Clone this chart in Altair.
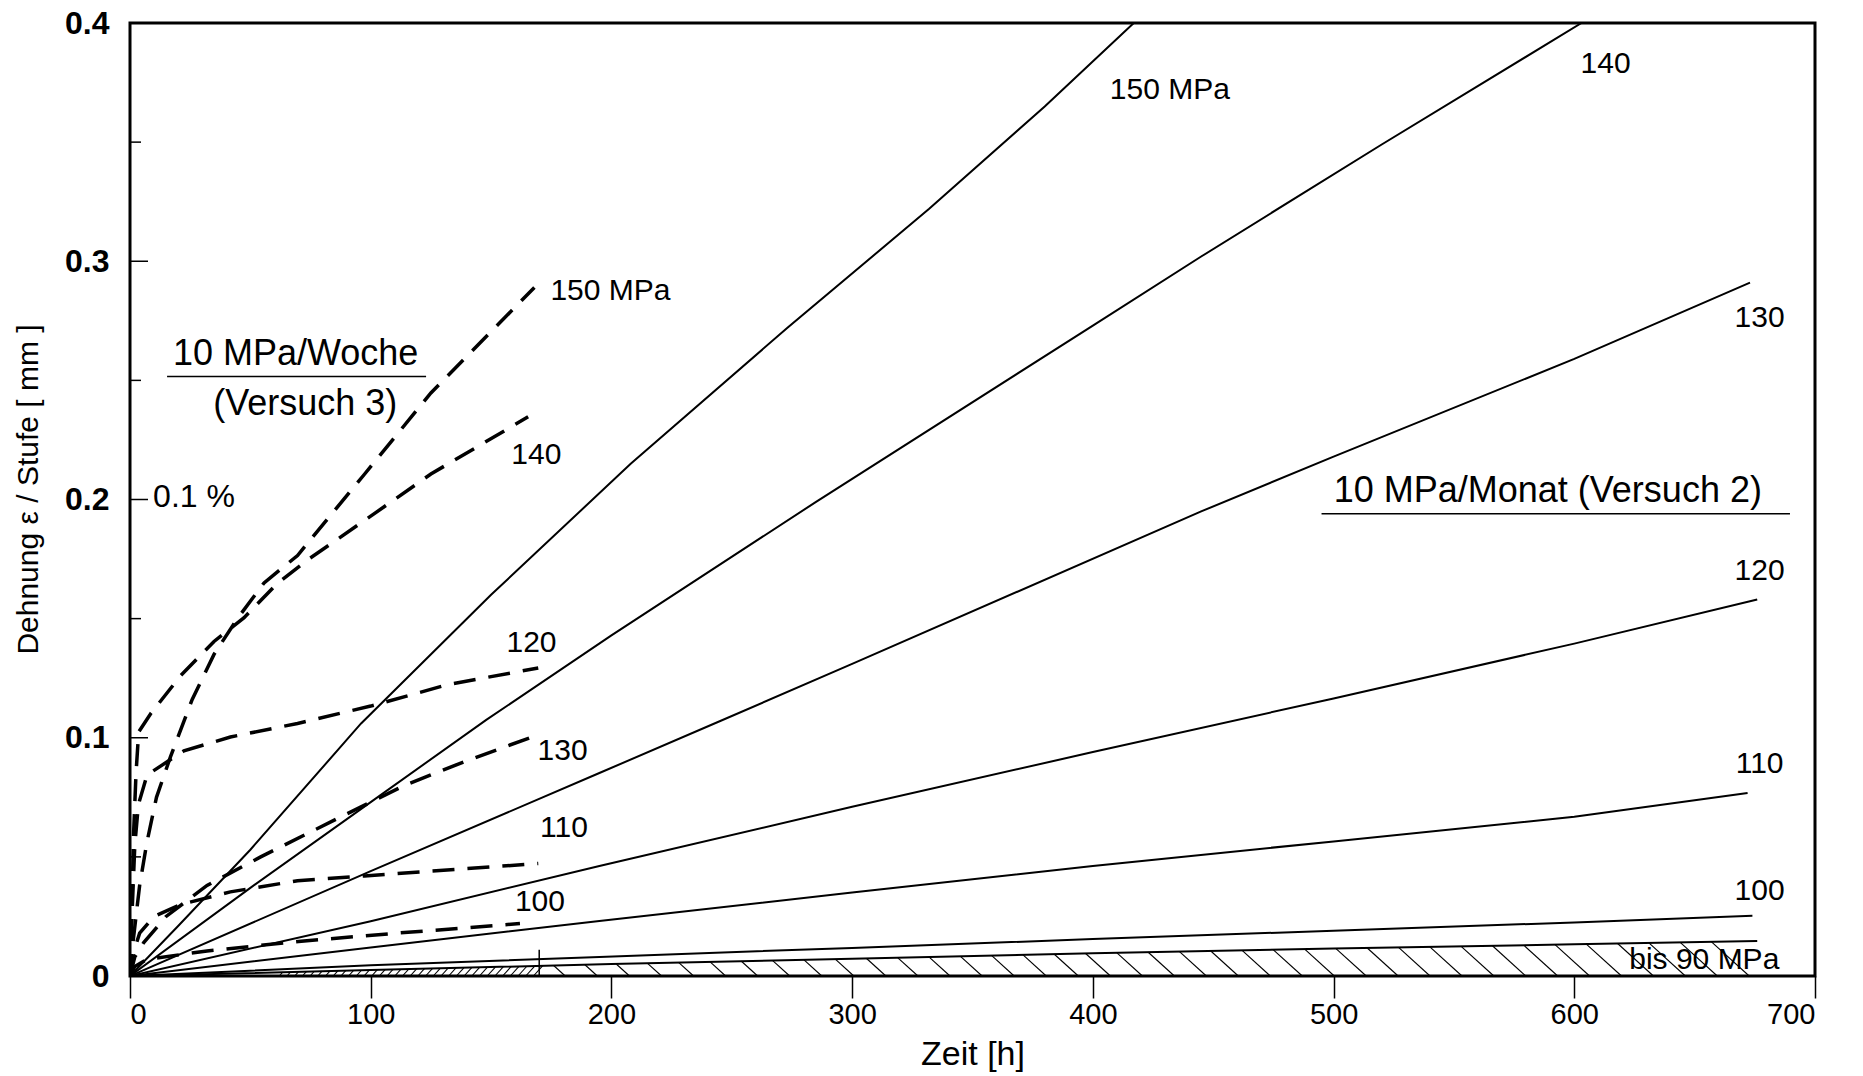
import altair as alt
import numpy as np
import pandas as pd

FONT = "Liberation Sans"

# ---------------- Versuch 2 : 10 MPa/Monat (solid curves) ----------------
m150_t = [0, 20, 50, 96, 150, 208, 273, 332, 380, 417]
m150_e = [0, 0.021, 0.053, 0.1060, 0.160, 0.215, 0.272, 0.322, 0.365, 0.400]
m140_t = [0, 50, 100, 148, 200, 285, 400, 445, 520, 603]
m140_e = [0, 0.037, 0.073, 0.1075, 0.143, 0.199, 0.273, 0.302, 0.349, 0.400]
m130_t = [0, 100, 195, 244, 300, 445, 500, 600, 673]
m130_e = [0, 0.044, 0.0852, 0.1065, 0.131, 0.195, 0.218, 0.259, 0.291]
m120_t = [0, 100, 195, 300, 400, 500, 600, 676]
m120_e = [0, 0.023, 0.0462, 0.071, 0.094, 0.1165, 0.1395, 0.158]
m110_t = [0, 100, 195, 300, 400, 500, 600, 672]
m110_e = [0, 0.012, 0.0231, 0.035, 0.0462, 0.0565, 0.0668, 0.0768]
m100_t = [0, 100, 195, 300, 400, 500, 600, 674]
m100_e = [0, 0.0045, 0.008, 0.0118, 0.0155, 0.019, 0.0225, 0.0253]
m90_t = [0, 100, 200, 300, 400, 500, 600, 676]
m90_e = [0, 0.0025, 0.005, 0.0072, 0.0095, 0.0115, 0.0133, 0.0147]

# ---------------- Versuch 3 : 10 MPa/Woche (dashed curves) ----------------
w150_t = [0, 1, 2.5, 4, 7, 11, 16.8, 25.8, 34.9, 44.6, 55.7, 69.6, 97.4, 125, 168]
w150_e = [0, 0.012, 0.025, 0.038, 0.056, 0.075, 0.092, 0.116, 0.135, 0.150, 0.165, 0.1765, 0.2106, 0.2447, 0.289]
w140_t = [0, 0.8, 1.5, 2.5, 3.6, 8.5, 21, 34.9, 47.4, 61, 73.7, 100, 125, 165.4]
w140_e = [0, 0.030, 0.060, 0.085, 0.1024, 0.110, 0.126, 0.1404, 0.1504, 0.1646, 0.1746, 0.193, 0.2107, 0.2347]
w120_t = [0, 1, 2, 3.5, 7.1, 22.4, 41.7, 69.6, 100, 132, 169.6]
w120_e = [0, 0.030, 0.055, 0.072, 0.0844, 0.0945, 0.1003, 0.106, 0.1133, 0.1223, 0.1293]
w130_t = [0, 2, 5.7, 15, 32, 54.3, 86, 114, 139, 168]
w130_e = [0, 0.008, 0.014, 0.025, 0.038, 0.050, 0.066, 0.080, 0.090, 0.1007]
w110_t = [0, 1.5, 4, 10, 21, 41.7, 69.6, 97.4, 125, 169.6]
w110_e = [0, 0.010, 0.018, 0.025, 0.030, 0.0353, 0.040, 0.042, 0.044, 0.0472]
w100_t = [0, 2, 7, 32, 70, 111, 162]
w100_e = [0, 0.004, 0.007, 0.0105, 0.0145, 0.018, 0.022]

# ---------------- labels ----------------
solid_lbl_text = ["150 MPa", "140", "130", "120", "110", "100", "bis 90 MPa"]
solid_lbl_x = [432, 613, 677, 677, 677, 677, 654]
solid_lbl_y = [0.372, 0.383, 0.276, 0.170, 0.089, 0.0357, 0.0067]

dash_lbl_text = ["150 MPa", "140", "120", "130", "110", "100"]
dash_lbl_x = [199.6, 168.8, 166.8, 179.7, 180.3, 170.3]
dash_lbl_y = [0.2876, 0.2187, 0.1398, 0.0945, 0.0621, 0.0311]

group_text = ["10 MPa/Woche", "(Versuch 3)", "10 MPa/Monat (Versuch 2)"]
group_x = [68.8, 72.8, 589]
group_y = [0.2611, 0.2401, 0.2036]

under_x = [15.4, 495]
under_x2 = [123, 689.6]
under_y = [0.2516, 0.194]

pct_text = ["0.1 %"]
pct_x = [9.6]
pct_y = [0.2011]

x_ticks = [0, 100, 200, 300, 400, 500, 600, 700]
y_ticks = [0, 0.1, 0.2, 0.3, 0.4]
y_major_inner = [0.1, 0.2, 0.3]
y_minor_inner = [0.05, 0.15, 0.25, 0.35]

week_end_x = [170]
week_end_y = [0.0]
week_end_y2 = [0.011]

# ---------------- tables ----------------
def long(curves):
    rows = []
    for name, ts, es in curves:
        for i, (t, e) in enumerate(zip(ts, es)):
            rows.append({"curve": name, "i": i, "t": t, "e": e})
    return pd.DataFrame(rows)

solid_df = long([("150", m150_t, m150_e), ("140", m140_t, m140_e), ("130", m130_t, m130_e),
                 ("120", m120_t, m120_e), ("110", m110_t, m110_e), ("100", m100_t, m100_e),
                 ("90", m90_t, m90_e)])
dash_df = long([("150", w150_t, w150_e), ("140", w140_t, w140_e), ("130", w130_t, w130_e),
                ("120", w120_t, w120_e), ("110", w110_t, w110_e), ("100", w100_t, w100_e)])

# hatch texture under the "bis 90 MPa" boundary (decoration)
PX_PER_H = 2.4
PX_PER_E = 2382.0
hatch = []
for xs in np.arange(176, 668, 13.0):
    top = float(np.interp(xs, m90_t, m90_e))
    hatch.append({"x": xs, "y": top, "x2": xs + top * PX_PER_E * 1.1 / PX_PER_H, "y2": 0.0})
for xs in np.arange(62, 168, 3.2):
    top_end = float(np.interp(xs + 2.5, m90_t, m90_e))
    hatch.append({"x": xs, "y": 0.0, "x2": xs + top_end * PX_PER_E * 0.9 / PX_PER_H, "y2": top_end})
hatch_df = pd.DataFrame(hatch)

xs_ = alt.Scale(domain=[0, 700], nice=False, zero=False)
ys_ = alt.Scale(domain=[0, 0.4], nice=False, zero=False)

x_axis = alt.Axis(values=x_ticks, format="d", tickSize=22, tickWidth=1.5, tickColor="black",
                  domain=False, grid=False, labelFont=FONT, labelFontSize=29, labelColor="black",
                  labelPadding=2, title="Zeit [h]", titleFont=FONT, titleFontSize=34,
                  titleFontWeight="normal", titleColor="black", titleY=78, titleBaseline="middle")
y_axis = alt.Axis(values=y_ticks, format=".1~f", ticks=False, domain=False, grid=False,
                  labelFont=FONT, labelFontSize=32, labelFontWeight="bold", labelColor="black",
                  labelPadding=21, title="Dehnung  \u03b5 / Stufe [ mm ]", titleFont=FONT,
                  titleFontSize=30, titleFontWeight="normal", titleColor="black",
                  titleX=-102, titleY=466, titleAngle=270, titleAlign="center",
                  titleBaseline="middle")

solid = alt.Chart(solid_df).mark_line(color="black", strokeWidth=2, clip=True).encode(
    x=alt.X("t:Q", scale=xs_, axis=x_axis),
    y=alt.Y("e:Q", scale=ys_, axis=y_axis),
    detail="curve:N",
    order="i:Q",
)
dashed = alt.Chart(dash_df).mark_line(color="black", strokeWidth=3.5, strokeDash=[22, 13],
                                      clip=True).encode(
    x=alt.X("t:Q", scale=xs_),
    y=alt.Y("e:Q", scale=ys_),
    detail="curve:N",
    order="i:Q",
)
hatch_layer = alt.Chart(hatch_df).mark_rule(color="black", strokeWidth=1.1).encode(
    x=alt.X("x:Q", scale=xs_), y=alt.Y("y:Q", scale=ys_), x2="x2:Q", y2="y2:Q")

week_end = alt.Chart(pd.DataFrame({"x": week_end_x, "y": week_end_y, "y2": week_end_y2})).mark_rule(
    color="black", strokeWidth=1.5).encode(
    x=alt.X("x:Q", scale=xs_), y=alt.Y("y:Q", scale=ys_), y2="y2:Q")

major_ticks = alt.Chart(pd.DataFrame({"y": y_major_inner})).mark_rule(
    color="black", strokeWidth=1.5).encode(
    y=alt.Y("y:Q", scale=ys_), x=alt.value(0), x2=alt.value(18))
minor_ticks = alt.Chart(pd.DataFrame({"y": y_minor_inner})).mark_rule(
    color="black", strokeWidth=1.5).encode(
    y=alt.Y("y:Q", scale=ys_), x=alt.value(0), x2=alt.value(11))

def text_layer(texts, xs, ys, size, align="center"):
    df = pd.DataFrame({"x": xs, "y": ys, "text": texts})
    return alt.Chart(df).mark_text(font=FONT, fontSize=size, color="black", align=align,
                                   baseline="middle").encode(
        x=alt.X("x:Q", scale=xs_), y=alt.Y("y:Q", scale=ys_), text="text:N")

solid_lbls = text_layer(solid_lbl_text, solid_lbl_x, solid_lbl_y, 30)
dash_lbls = text_layer(dash_lbl_text, dash_lbl_x, dash_lbl_y, 30)
group_lbls = text_layer(group_text, group_x, group_y, 36)
pct_lbl = text_layer(pct_text, pct_x, pct_y, 32, align="left")

underlines = alt.Chart(pd.DataFrame({"x": under_x, "x2": under_x2, "y": under_y})).mark_rule(
    color="black", strokeWidth=1.5).encode(
    x=alt.X("x:Q", scale=xs_), x2="x2:Q", y=alt.Y("y:Q", scale=ys_))

chart = alt.layer(
    solid, hatch_layer, dashed, week_end, major_ticks, minor_ticks,
    solid_lbls, dash_lbls, group_lbls, pct_lbl, underlines,
).properties(
    width=1685, height=953,
    padding={"left": 130, "top": 23, "right": 48, "bottom": 100},
    autosize=alt.AutoSizeParams(type="none"),
    background="white",
).configure_view(stroke="black", strokeWidth=3)

chart.save("out.html", embed_options={"renderer": "svg", "actions": False})
